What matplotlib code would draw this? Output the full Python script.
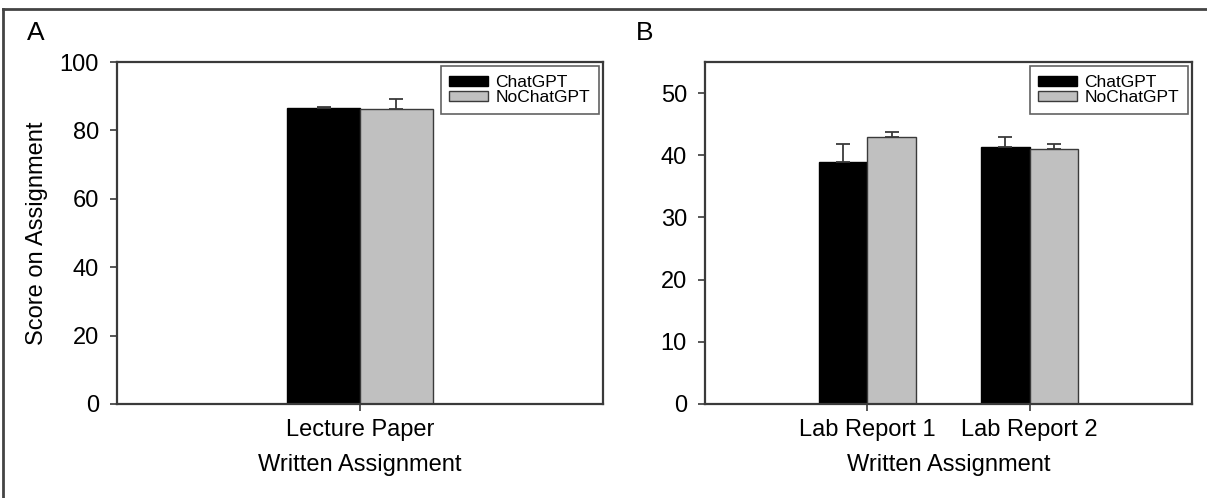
import numpy as np
import matplotlib.pyplot as plt
from matplotlib.lines import Line2D

plt.rcParams['font.family'] = ['Liberation Sans', 'DejaVu Sans']

# panel A: lecture paper
cats_a = ["Lecture Paper"]
chat_a = [86.5]
chat_a_err = [0.4]
nochat_a = [86.3]
nochat_a_err = [2.9]

# panel B: lab reports
cats_b = ["Lab Report 1", "Lab Report 2"]
chat_b = [38.9, 41.3]
chat_b_err = [2.9, 1.6]
nochat_b = [42.9, 41.0]
nochat_b_err = [0.8, 0.8]

BLACK = "#000000"
GRAY = "#c0c0c0"
SPINE = "#3a3a3a"
FS = 17


def draw_panel(ax, cats, chat, chat_err, nochat, nochat_err, ylim, yticks):
    x = np.arange(1, len(cats) + 1)
    w = 0.3
    ekw = dict(ecolor=SPINE, elinewidth=1.3, capsize=5, capthick=1.3)
    ax.bar(x - w / 2, chat, w, color=BLACK, edgecolor=BLACK, linewidth=1,
           yerr=[np.zeros(len(chat)), chat_err], error_kw=ekw, label="ChatGPT", zorder=2)
    ax.bar(x + w / 2, nochat, w, color=GRAY, edgecolor=SPINE, linewidth=1,
           yerr=[np.zeros(len(nochat)), nochat_err], error_kw=ekw, label="NoChatGPT", zorder=2)
    ax.set_xlim(0, len(cats) + 1)
    ax.set_ylim(*ylim)
    ax.set_yticks(yticks)
    ax.set_xticks(x)
    ax.set_xticklabels(cats)
    ax.tick_params(labelsize=FS, length=5, width=1.2, color=SPINE)
    ax.tick_params(axis="y", pad=8)
    ax.tick_params(axis="x", pad=6)
    for s in ax.spines.values():
        s.set_color(SPINE)
        s.set_linewidth(1.6)
    ax.set_xlabel("Written Assignment", fontsize=FS, labelpad=9)
    leg = ax.legend(loc="upper right", fontsize=12.5, frameon=True, fancybox=False,
                    edgecolor=SPINE, handlelength=2.2, handleheight=0.45,
                    borderpad=0.5, labelspacing=0.0, handletextpad=0.45,
                    borderaxespad=0.25)
    leg.get_frame().set_linewidth(1.2)


fig = plt.figure(figsize=(12.07, 4.98), dpi=100)
ax_a = fig.add_axes([0.0969, 0.1888, 0.4027, 0.6867])
ax_b = fig.add_axes([0.5841, 0.1888, 0.4035, 0.6867])

draw_panel(ax_a, cats_a, chat_a, chat_a_err, nochat_a, nochat_a_err, (0, 100), [0, 20, 40, 60, 80, 100])
draw_panel(ax_b, cats_b, chat_b, chat_b_err, nochat_b, nochat_b_err, (0, 55), [0, 10, 20, 30, 40, 50])
ax_a.set_ylabel("Score on Assignment", fontsize=FS, labelpad=8)

fig.text(0.022, 0.934, "A", fontsize=19, va="center", ha="left")
fig.text(0.527, 0.934, "B", fontsize=19, va="center", ha="left")

# outer frame (top and left edges)
fig.add_artist(Line2D([0.0025, 1], [0.982, 0.982], color="#444444", lw=2, transform=fig.transFigure))
fig.add_artist(Line2D([0.0025, 0.0025], [0, 0.982], color="#444444", lw=2, transform=fig.transFigure))

fig.savefig("out.png", dpi=100)
